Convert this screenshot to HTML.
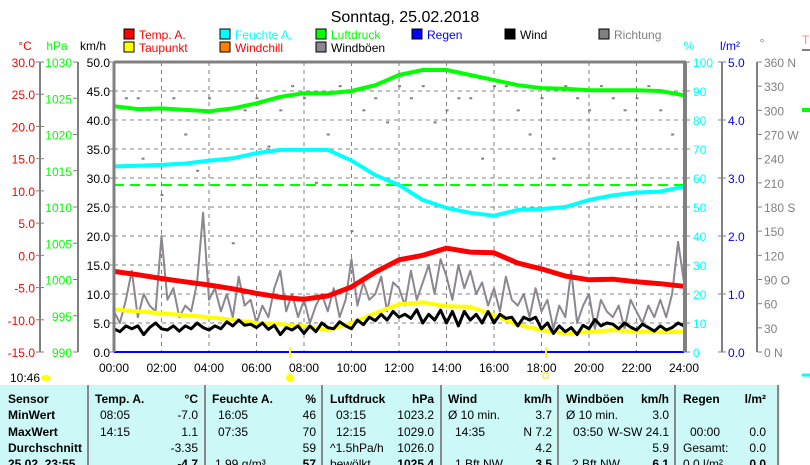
<!DOCTYPE html>
<html><head><meta charset="utf-8"><style>
body{margin:0;background:#fff;width:810px;height:465px;overflow:hidden;font-family:"Liberation Sans",sans-serif;}
svg{position:absolute;left:0;top:0}
text{font-family:"Liberation Sans",sans-serif;font-size:12px}
.tb{position:absolute;left:0;top:385px;width:780px;height:80px;background:#ccf8f8}
</style></head><body>
<svg id="c" width="810" height="465"></svg>
<script>
const hours=[0,1,2,3,4,5,6,7,8,9,10,11,12,13,14,15,16,17,18,19,20,21,22,23,24];
const temp=[-2.5,-3.0,-3.6,-4.1,-4.6,-5.2,-5.9,-6.5,-6.8,-6.3,-4.9,-2.6,-0.7,0.0,1.1,0.5,0.4,-1.2,-2.1,-3.2,-3.8,-3.7,-4.1,-4.4,-4.8];
const dew=[-8.4,-8.7,-9.0,-9.3,-9.6,-10.0,-10.5,-10.7,-11.0,-11.6,-10.5,-9.0,-7.6,-7.3,-7.9,-8.0,-9.3,-10.8,-11.6,-12.1,-11.9,-11.6,-11.8,-11.9,-11.9];
const hum=[64,64.2,64.5,65,66,66.8,68.6,69.7,69.7,69.7,66,61,57.6,52.4,49.7,48,47,49,49.3,50,52.4,54,55,55.3,57];
const press=[1023.9,1023.5,1023.6,1023.4,1023.2,1023.6,1024.3,1025.2,1025.7,1025.7,1026,1026.8,1028.2,1028.9,1028.9,1028.2,1027.5,1026.8,1026.4,1026.3,1026.1,1026.1,1026.1,1026,1025.4];
const gust=[7,5,9,14,6,10,8,7,20,9,11,6,8,7,12,24,9,11,7,10,6,13,8,9,5,8,6,11,14,7,10,6,9,5,8,10,7,11,6,9,16,8,12,9,10,13,7,12,11,8,14,9,12,15,10,16,13,9,15,11,14,10,12,8,11,7,13,9,8,10,6,11,7,9,4,8,6,14,5,8,10,4,9,7,6,8,4,9,7,5,8,6,9,6,10,19,12];
const wind=[4,3.5,4.5,4,4.5,3,4.2,5,4,3.8,4.5,3.6,4.5,4,5,4.2,3.8,4.5,4,5.2,4.5,5.5,4.6,4.8,4.2,5,3.9,4.6,3,4.2,3.8,4.5,3.2,4.5,3.5,5,4.2,4,5.2,4.5,4,5.5,4.7,6,5.4,6.5,5.5,7,6,6.5,5.8,7.3,5,6.5,5.5,7.2,5,7,4.5,7,5.5,6.5,5,7,5,6.5,5.8,6,4.5,6,5.5,6,4,5,3.2,4.5,3.5,4.2,3,4.6,4,5.6,4.5,5,4.8,4,5,4.3,3.8,4.8,4.2,3.6,4.5,3.8,4.2,5,4.5];
const dirH=[0.5,1,1.5,2.5,3,4,4.5,5.5,6,7,7.5,8,9,9.5,10.5,11,12,12.5,13,14,14.5,15,16,16.5,17,18,19,19.5,20,21,22,22.5,23,23.5,1.2,3.5,6.5,8.5,11.5,13.5,15.5,17.5,20.5,21.5,2,10,18.5,5];
const dirD=[315,315,300,315,270,315,300,300,315,300,330,315,270,330,300,315,330,315,330,300,315,315,330,330,300,315,330,315,300,315,315,330,300,270,240,225,255,210,285,285,240,270,330,300,195,150,240,135];
const tempTicks=[30,25,20,15,10,5,0,-5,-10,-15];
const pressTicks=[1030,1025,1020,1015,1010,1005,1000,995,990];
const windTicks=[50,45,40,35,30,25,20,15,10,5,0];
const humTicks=[100,90,80,70,60,50,40,30,20,10,0];
const rainTicks=[5,4,3,2,1,0];
const dirTicks=[[360,'360 N'],[330,'330'],[300,'300'],[270,'270 W'],[240,'240'],[210,'210'],[180,'180 S'],[150,'150'],[120,'120'],[90,'90 O'],[60,'60'],[30,'30'],[0,'0 N']];
const timeLabels=['00:00','02:00','04:00','06:00','08:00','10:00','12:00','14:00','16:00','18:00','20:00','22:00','24:00'];

const X0=114,X1=684,Y0=62,Y1=352;
const xs=h=>X0+(X1-X0)*h/24;
const yT=t=>Y0+(30-t)/45*(Y1-Y0);
const yP=p=>Y0+(1030-p)/40*(Y1-Y0);
const yW=w=>Y0+(50-w)/50*(Y1-Y0);
const yH=v=>Y0+(100-v)/100*(Y1-Y0);
const yR=v=>Y0+(5-v)/5*(Y1-Y0);
const yD=v=>Y0+(360-v)/360*(Y1-Y0);
const svg=document.getElementById('c');
const NS='http://www.w3.org/2000/svg';
function mk(tag,attrs,parent){const e=document.createElementNS(NS,tag);for(const k in attrs)e.setAttribute(k,attrs[k]);(parent||svg).appendChild(e);return e;}
function txt(x,y,s,fill,anchor,extra){const t=mk('text',Object.assign({x:x,y:y,fill:fill,'text-anchor':anchor||'start'},extra||{}));t.textContent=s;return t;}

let e=txt(405,22,'Sonntag, 25.02.2018','#000','middle',{style:'font-size:16px'});



const leg=[[123,38,'#f00','Temp. A.','#f00'],[219,38,'#0ff','Feuchte A.','#0ff'],[315,38,'#0f0','Luftdruck','#0f0'],[411,38,'#00f','Regen','#00f'],[504,38,'#000','Wind','#000'],[598,38,'#808080','Richtung','#808080'],[123,51,'#ff0','Taupunkt','#f00'],[219,51,'#ff8000','Windchill','#f00'],[315,51,'#8c8690','Windböen','#000']];
leg.forEach(l=>{const g=mk('g',{});


mk('rect',{x:l[0]+1,y:l[1]-9,width:10,height:10,fill:l[2],stroke:'#000'},g);
const t=mk('text',{x:l[0]+16,y:l[1]+1,fill:l[4]},g);t.textContent=l[3];});

txt(25,50,'°C','#f00','middle');txt(57,50,'hPa','#0f0','middle');txt(93,50,'km/h','#000','middle');
txt(689,50,'%','#0ff','middle');txt(730,50,'l/m²','#00f','middle');txt(762,47,'°','#808080','middle');

for(let i=1;i<10;i++){mk('line',{x1:X0,x2:X1,y1:Y0+i*29,y2:Y0+i*29,stroke:'#808080','stroke-dasharray':'4,4'});}
for(let i=1;i<12;i++){mk('line',{x1:xs(i*2),x2:xs(i*2),y1:Y0,y2:Y1,stroke:'#808080','stroke-dasharray':'4,4'});}

mk('line',{x1:40,x2:40,y1:Y0,y2:Y1,stroke:'#808080','stroke-width':2});
tempTicks.forEach(t=>{const y=yT(t);mk('line',{x1:36,x2:44,y1:y,y2:y,stroke:'#808080'});txt(35,y+5,t.toFixed(1),'#f00','end');});
mk('line',{x1:78,x2:78,y1:Y0,y2:Y1,stroke:'#808080','stroke-width':2});
pressTicks.forEach(p=>{const y=yP(p);mk('line',{x1:73,x2:78,y1:y,y2:y,stroke:'#808080'});txt(72,y+5,String(p),'#0f0','end');});
windTicks.forEach(w=>{const y=yW(w);mk('line',{x1:110,x2:114,y1:y,y2:y,stroke:'#808080'});txt(110,y+5,w.toFixed(1),'#000','end');});
humTicks.forEach(v=>{const y=yH(v);mk('line',{x1:684,x2:690,y1:y,y2:y,stroke:'#808080'});txt(693,y+5,String(v),'#0ff');});
mk('line',{x1:722,x2:722,y1:Y0,y2:Y1,stroke:'#808080','stroke-width':2});
rainTicks.forEach(v=>{const y=yR(v);mk('line',{x1:718,x2:726,y1:y,y2:y,stroke:'#808080'});txt(728,y+5,v.toFixed(1),'#00f');});
mk('line',{x1:757,x2:757,y1:Y0,y2:Y1,stroke:'#808080','stroke-width':2});
dirTicks.forEach(d=>{const y=yD(d[0]);mk('line',{x1:757,x2:762,y1:y,y2:y,stroke:'#808080'});txt(764,y+5,d[1],'#808080');});

timeLabels.forEach((s,i)=>{txt(xs(i*2),372,s,'#000','middle');});

dirH.forEach((h,i)=>{const d=mk('rect',{x:xs(h)-1,y:yD(dirD[i])-1,width:3,height:2,fill:'#808080'});

});
mk('line',{x1:X0,x2:X1,y1:185,y2:185,stroke:'#0f0','stroke-dasharray':'10,6','stroke-width':2});

function line(arr,hs,yf,color,w,name){const pts=arr.map((v,i)=>xs(hs(i)).toFixed(1)+','+yf(v).toFixed(1)).join(' ');
const p=mk('polyline',{points:pts,fill:'none',stroke:color,'stroke-width':w,'stroke-linejoin':'round'});

}
line(gust,i=>i/4,yW,'#8c8690',2,'windgust-line');
line(dew,i=>hours[i],yT,'#ff0',4,'dewpoint-line');
line(wind,i=>i/4,yW,'#000',3,'wind-line');
line(temp,i=>hours[i],yT,'#f00',5,'temperature-line');
line(hum,i=>hours[i],yH,'#0ff',4,'humidity-line');
line(press,i=>hours[i],yP,'#0f0',4,'pressure-line');
mk('line',{x1:X0,x2:X1,y1:Y1,y2:Y1,stroke:'#00f','stroke-width':2});
mk('line',{x1:X0,x2:X1+2,y1:Y0,y2:Y0,stroke:'#808080','stroke-width':3});
mk('line',{x1:X0,x2:X0,y1:Y0,y2:Y1,stroke:'#808080','stroke-width':3});
mk('line',{x1:X1+1,x2:X1+1,y1:Y0,y2:Y1,stroke:'#808080','stroke-width':4});
mk('line',{x1:290,x2:290,y1:347,y2:358,stroke:'#ff0','stroke-width':2});
mk('circle',{cx:290,cy:378,r:4,fill:'#ff0'});
mk('line',{x1:546,x2:546,y1:347,y2:358,stroke:'#ff0','stroke-width':2});
mk('rect',{x:543,y:373,width:5,height:5,fill:'none',stroke:'#ee0'});
txt(10,382,'10:46','#000');
mk('ellipse',{cx:46,cy:378,rx:5,ry:3,fill:'#ff0'});
txt(802,44,'T','#f88');
mk('line',{x1:802,x2:810,y1:50,y2:50,stroke:'#808080','stroke-width':2});
mk('line',{x1:802,x2:810,y1:110,y2:110,stroke:'#0f0','stroke-width':4});
mk('line',{x1:802,x2:810,y1:375,y2:375,stroke:'#0ff','stroke-width':3});
</script>
<div class="tb">
<svg width="780" height="80" style="position:absolute;left:0;top:0">
<g stroke="#888" stroke-width="2">
<line x1="88" y1="0" x2="88" y2="80"/><line x1="205" y1="0" x2="205" y2="80"/><line x1="322" y1="0" x2="322" y2="80"/><line x1="441" y1="0" x2="441" y2="80"/><line x1="558" y1="0" x2="558" y2="80"/><line x1="675" y1="0" x2="675" y2="80"/><line x1="778" y1="0" x2="778" y2="80"/>
</g>
<g font-size="12" fill="#000">
<g font-weight="bold"><text x="8" y="18">Sensor</text><text x="8" y="34">MinWert</text><text x="8" y="51">MaxWert</text><text x="8" y="67">Durchschnitt</text><text x="8" y="83">25.02. 23:55</text>
<text x="95" y="18">Temp. A.</text><text x="198" y="18" text-anchor="end">°C</text>
<text x="212" y="18">Feuchte A.</text><text x="316" y="18" text-anchor="end">%</text>
<text x="330" y="18">Luftdruck</text><text x="434" y="18" text-anchor="end">hPa</text>
<text x="448" y="18">Wind</text><text x="552" y="18" text-anchor="end">km/h</text>
<text x="566" y="18">Windböen</text><text x="669" y="18" text-anchor="end">km/h</text>
<text x="683" y="18">Regen</text><text x="766" y="18" text-anchor="end">l/m²</text>
<text x="198" y="83" text-anchor="end">-4.7</text><text x="316" y="83" text-anchor="end">57</text><text x="434" y="83" text-anchor="end">1025.4</text><text x="552" y="83" text-anchor="end">3.5</text><text x="669" y="83" text-anchor="end">6.1</text><text x="766" y="83" text-anchor="end">0.0</text></g>
<text x="100" y="34">08:05</text><text x="198" y="34" text-anchor="end">-7.0</text>
<text x="100" y="51">14:15</text><text x="198" y="51" text-anchor="end">1.1</text>
<text x="198" y="67" text-anchor="end">-3.35</text>
<text x="218" y="34">16:05</text><text x="316" y="34" text-anchor="end">46</text>
<text x="218" y="51">07:35</text><text x="316" y="51" text-anchor="end">70</text>
<text x="316" y="67" text-anchor="end">59</text><text x="215" y="83">1.99 g/m³</text>
<text x="336" y="34">03:15</text><text x="434" y="34" text-anchor="end">1023.2</text>
<text x="336" y="51">12:15</text><text x="434" y="51" text-anchor="end">1029.0</text>
<text x="330" y="67">^1.5hPa/h</text><text x="434" y="67" text-anchor="end">1026.0</text><text x="330" y="83">bewölkt</text>
<text x="448" y="34">Ø 10 min.</text><text x="552" y="34" text-anchor="end">3.7</text>
<text x="455" y="51">14:35</text><text x="552" y="51" text-anchor="end">N 7.2</text>
<text x="552" y="67" text-anchor="end">4.2</text><text x="455" y="83">1 Bft NW</text>
<text x="566" y="34">Ø 10 min.</text><text x="669" y="34" text-anchor="end">3.0</text>
<text x="573" y="51">03:50</text><text x="669" y="51" text-anchor="end">W-SW 24.1</text>
<text x="669" y="67" text-anchor="end">5.9</text><text x="572" y="83">2 Bft NW</text>
<text x="690" y="51">00:00</text><text x="766" y="51" text-anchor="end">0.0</text>
<text x="683" y="67">Gesamt:</text><text x="766" y="67" text-anchor="end">0.0</text><text x="683" y="83">0.0 l/m²</text>
</g></svg></div>
</body></html>
